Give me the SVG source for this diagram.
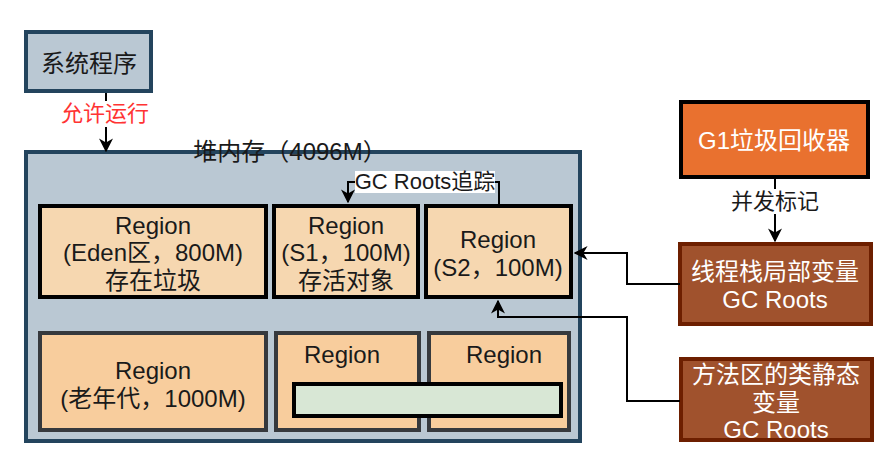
<svg xmlns="http://www.w3.org/2000/svg" width="886" height="464" viewBox="0 0 886 464">
<defs>
<style>
text{font-family:"Liberation Sans","Noto Sans CJK SC",sans-serif;font-size:24px;fill:#1a1a1a;text-anchor:middle}
.lbl{font-size:22px}
.w{fill:#ffffff}
.red{fill:#ff3333}
.heap{fill:#bac8d3;stroke:#23445d;stroke-width:4}
.top{fill:#f6d7b0;stroke:#000;stroke-width:4}
.bot{fill:#f8cd9d;stroke:#36393d;stroke-width:4}
.root{fill:#a0522d;stroke:#6d1f00;stroke-width:4}
.edge{fill:none;stroke:#000;stroke-width:2}
.bg{fill:#fff}
</style>
<marker id="ah" viewBox="0 0 10 10" refX="9" refY="5" markerWidth="7" markerHeight="7" markerUnits="strokeWidth" orient="auto">
<path d="M0,0 L10,5 L0,10 L3,5 z" fill="#000"/>
</marker>
</defs>
<rect width="886" height="464" fill="#fff"/>

<g id="sys">
<rect x="26" y="32" width="125" height="59" class="heap"/>
<text x="89" y="72">系统程序</text>
</g>

<g id="heap">
<rect x="26" y="152" width="554" height="289" class="heap"/>
<text x="290" y="160">堆内存（4096M）</text>
</g>

<g id="eden">
<rect x="40" y="206" width="226" height="91" class="top"/>
<text x="153" y="234">Region</text>
<text x="153" y="261">(Eden区，800M)</text>
<text x="153" y="289">存在垃圾</text>
</g>

<g id="s1">
<rect x="274" y="206" width="144" height="91" class="top"/>
<text x="346" y="234">Region</text>
<text x="346" y="261">(S1，100M)</text>
<text x="346" y="289">存活对象</text>
</g>

<g id="s2">
<rect x="426" y="206" width="145" height="91" class="top"/>
<text x="498" y="248">Region</text>
<text x="498" y="276">(S2，100M)</text>
</g>

<g id="old">
<rect x="40" y="333" width="226" height="97" class="bot"/>
<text x="153" y="379">Region</text>
<text x="153" y="407">(老年代，1000M)</text>
</g>

<g id="r-mid">
<rect x="276" y="333" width="143" height="97" class="bot"/>
<text x="342" y="363">Region</text>
</g>

<g id="r-right">
<rect x="429" y="333" width="140" height="97" class="bot"/>
<text x="504" y="363">Region</text>
</g>

<g id="humongous">
<rect x="294" y="384" width="267" height="32" fill="#d8e7d5" stroke="#000" stroke-width="4"/>
</g>

<g id="g1">
<rect x="681" y="102" width="187" height="75" fill="#e9712f" stroke="#000" stroke-width="4"/>
<text x="774" y="149" class="w">G1垃圾回收器</text>
</g>

<g id="thread">
<rect x="680" y="244" width="191" height="80" class="root"/>
<text x="775" y="280" class="w">线程栈局部变量</text>
<text x="775" y="308" class="w">GC Roots</text>
</g>

<g id="method">
<rect x="681" y="359" width="191" height="81" class="root"/>
<text x="776" y="383" class="w">方法区的类静态</text>
<text x="776" y="411" class="w">变量</text>
<text x="776" y="438" class="w">GC Roots</text>
</g>

<g id="connectors">
<path d="M106,93 V151" class="edge" marker-end="url(#ah)"/>
<rect x="60" y="101" width="92" height="26" class="bg"/>
<text x="105" y="121" class="red lbl">允许运行</text>

<path d="M499,204 V182 H348 V202" class="edge" marker-end="url(#ah)"/>
<rect x="355" y="171" width="140" height="22" class="bg"/>
<text x="425" y="189" class="lbl">GC Roots追踪</text>

<path d="M775,179 V241" class="edge" marker-end="url(#ah)"/>
<rect x="730" y="189" width="92" height="25" class="bg"/>
<text x="775" y="209" class="lbl">并发标记</text>

<path d="M680,284 H627 V253 H575" class="edge" marker-end="url(#ah)"/>
<path d="M680,401 H627 V317 H498 V301" class="edge" marker-end="url(#ah)"/>
</g>
</svg>
